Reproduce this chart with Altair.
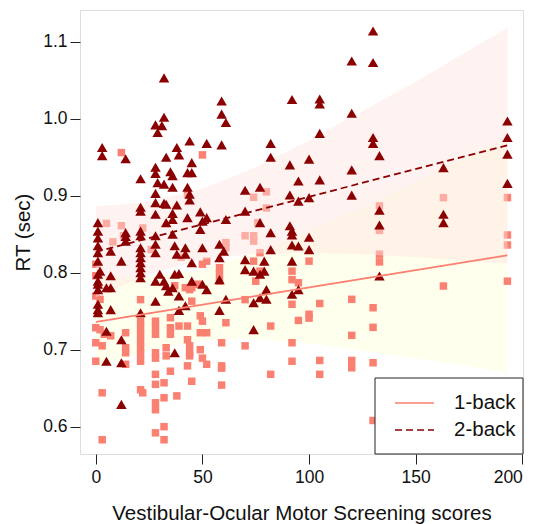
import altair as alt
import pandas as pd

# ---- data ----
# 2-back (triangles): (x, RT)
tri = [
    (1, 0.865), (1, 0.854), (1, 0.845), (1, 0.835), (1, 0.826), (1, 0.815), (1, 0.798),
    (1, 0.789), (1, 0.785), (1, 0.778), (1, 0.759), (1, 0.752), (1, 0.748),
    (2, 0.802), (3, 0.9625), (3, 0.952),
    (5, 0.7805), (5, 0.724), (5, 0.685),
    (7, 0.828), (7, 0.796), (7, 0.7805), (7, 0.752),
    (12, 0.815), (12, 0.713), (12, 0.683), (12, 0.629),
    (14, 0.948), (14, 0.852), (14, 0.847), (14, 0.841),
    (21, 0.922), (21, 0.885), (21, 0.880), (21, 0.854), (21, 0.848), (21, 0.8325), (21, 0.826),
    (21, 0.8195), (21, 0.813), (21, 0.8065), (21, 0.800), (21, 0.7935), (21, 0.748),
    (28, 0.992), (28, 0.937), (28, 0.929), (28, 0.903), (28, 0.891), (28, 0.876), (28, 0.848),
    (28, 0.837), (28, 0.826), (28, 0.789), (28, 0.763),
    (29, 0.982), (29, 0.917), (30, 0.798),
    (32, 1.053), (32, 1.002), (31, 0.991), (32, 0.915), (32, 0.890), (32, 0.789),
    (33, 0.950), (33, 0.889), (33, 0.865), (33, 0.783), (34, 0.776),
    (35, 0.931), (36, 0.926), (36, 0.911), (36, 0.877), (36, 0.869), (36, 0.850), (36, 0.7805),
    (37, 0.835), (37, 0.798), (37, 0.696),
    (38, 0.9625), (38, 0.888), (38, 0.824),
    (39, 0.953), (39, 0.799), (39, 0.7697), (39, 0.751),
    (43, 0.930), (43, 0.911), (43, 0.8715), (42, 0.8325), (42, 0.824), (42, 0.757),
    (44, 0.971), (44, 0.902), (44, 0.8945),
    (45, 0.943), (45, 0.930), (45, 0.813), (45, 0.789),
    (49, 0.879), (49, 0.856), (50, 0.867), (50, 0.8325), (50, 0.785),
    (52, 0.968), (52, 0.8715), (52, 0.778),
    (58, 0.837), (58, 0.8195), (58, 0.791), (58, 0.751),
    (59, 1.023), (59, 1.006), (59, 0.966), (60, 0.828),
    (61, 0.995), (61, 0.869), (61, 0.7654),
    (70, 0.907), (70, 0.880), (70, 0.817), (70, 0.804),
    (74, 0.802), (74, 0.761), (74, 0.726),
    (77, 0.911), (77, 0.865), (77, 0.798), (77, 0.7675),
    (79, 0.815), (79, 0.802), (80, 0.7654), (80, 0.778),
    (82, 0.968), (82, 0.950), (82, 0.852), (82, 0.830),
    (91, 0.940), (91, 0.901), (91, 0.861),
    (92, 1.025), (92, 0.854), (92, 0.849), (92, 0.836), (92, 0.815), (92, 0.772),
    (95, 0.919), (95, 0.893), (95, 0.8347), (95, 0.778),
    (100, 0.9475), (100, 0.8975), (100, 0.846), (100, 0.830),
    (105, 1.0255), (105, 1.019), (105, 0.981), (105, 0.9206),
    (120, 1.075), (120, 1.007), (120, 0.9335), (120, 0.9007),
    (130, 1.114), (130, 1.073), (130, 0.9756), (130, 0.968),
    (133, 0.952), (133, 0.881), (133, 0.862), (133, 0.7957),
    (163, 0.9365), (163, 0.876), (163, 0.865),
    (193, 0.997), (193, 0.9756), (193, 0.954), (193, 0.916),
]
tri_x = [p[0] for p in tri]
tri_y = [p[1] for p in tri]

# 1-back (squares): (x, RT)
sq = [
    (0, 0.811), (0, 0.796), (0, 0.7697), (0, 0.7285), (0, 0.709), (0, 0.685),
    (2, 0.7654), (2, 0.726), (3, 0.705), (3, 0.644), (3, 0.583), (4, 0.72), (5, 0.864),
    (7, 0.718), (8, 0.84), (12, 0.956), (12, 0.861), (13, 0.848),
    (14, 0.722), (14, 0.7025), (14, 0.696), (14, 0.681),
    (21, 0.765), (21, 0.737), (21, 0.7285), (21, 0.72), (21, 0.711), (21, 0.7025), (21, 0.694),
    (21, 0.685), (21, 0.648), (22, 0.858), (22, 0.644), (26, 0.83),
    (28, 0.737), (28, 0.7285), (28, 0.72), (28, 0.696), (28, 0.689), (28, 0.668), (28, 0.655),
    (28, 0.631), (28, 0.622), (28, 0.592),
    (32, 0.657), (32, 0.6375), (32, 0.6), (32, 0.583), (33, 0.7025), (33, 0.692),
    (35, 0.7415), (35, 0.7285), (35, 0.72), (35, 0.672), (37, 0.783), (38, 0.64), (39, 0.7307),
    (40, 0.82), (42, 0.7805), (43, 0.902), (43, 0.7307), (43, 0.713), (43, 0.679),
    (44, 0.705), (44, 0.696), (44, 0.692), (44, 0.778),
    (45, 0.7805), (45, 0.763), (45, 0.659), (48, 0.785),
    (49, 0.744), (49, 0.722), (49, 0.70), (50, 0.953), (50, 0.811), (50, 0.737), (50, 0.689),
    (52, 0.815), (52, 0.722), (52, 0.681),
    (58, 0.8065), (58, 0.798), (58, 0.789), (59, 0.709), (59, 0.679), (59, 0.676), (59, 0.654),
    (61, 0.839), (61, 0.8325), (61, 0.735), (70, 0.848), (70, 0.765), (70, 0.705),
    (74, 0.898), (74, 0.848), (74, 0.841), (74, 0.815), (75, 0.789), (76, 0.865),
    (77, 0.826), (77, 0.802), (80, 0.905), (80, 0.884), (82, 0.7307), (82, 0.668),
    (92, 0.802), (92, 0.791), (92, 0.759), (92, 0.709), (92, 0.685),
    (95, 0.787), (95, 0.738), (100, 0.815), (100, 0.746), (100, 0.741),
    (105, 0.760), (105, 0.686), (105, 0.668),
    (120, 0.7654), (120, 0.7186), (120, 0.686), (120, 0.6765),
    (130, 0.7545), (130, 0.729), (130, 0.683), (130, 0.608),
    (133, 0.8867), (133, 0.855), (133, 0.824), (133, 0.814),
    (163, 0.8975), (163, 0.7827),
    (193, 0.8975), (193, 0.849), (193, 0.836), (193, 0.789),
]
sq_x = [p[0] for p in sq]
sq_y = [p[1] for p in sq]

# fitted lines (end points)
line_series = ["1-back", "1-back", "2-back", "2-back"]
line_x = [0, 193, 0, 193]
line_y = [0.736, 0.8226, 0.827, 0.9654]

# confidence bands (edges)
band_x = [0, 25, 50, 75, 100, 125, 150, 175, 193]
band1_lo = [0.677, 0.700, 0.712, 0.714, 0.708, 0.699, 0.689, 0.678, 0.670]
band1_hi = [0.795, 0.794, 0.804, 0.826, 0.854, 0.885, 0.917, 0.952, 0.976]
band2_lo = [0.768, 0.798, 0.817, 0.825, 0.826, 0.824, 0.820, 0.815, 0.812]
band2_hi = [0.886, 0.892, 0.909, 0.937, 0.972, 1.010, 1.048, 1.089, 1.118]

x_ticks = [0, 50, 100, 150, 200]
y_ticks = [0.6, 0.7, 0.8, 0.9, 1.0, 1.1]

FONT = "Liberation Sans"
SALMON = "#FA8072"
DARKRED = "#8B0000"

xs = alt.Scale(domain=[-7.4, 200.3], nice=False, zero=False)
ys = alt.Scale(domain=[0.5645, 1.1412], nice=False, zero=False)

x_axis = alt.Axis(values=x_ticks, title="Vestibular-Ocular Motor Screening scores",
                  domain=False, grid=False, tickSize=10, tickColor="#222", labelPadding=4,
                  labelFontSize=17.5, labelFont=FONT, labelColor="#111",
                  titleFontSize=20.5, titleFont=FONT, titleFontWeight="normal", titleColor="#111",
                  titleBaseline="alphabetic", titleY=65)
y_axis = alt.Axis(values=y_ticks, format=".1f", title="RT (sec)",
                  domain=False, grid=False, tickSize=10, tickColor="#222", labelPadding=3,
                  labelFontSize=17.5, labelFont=FONT, labelColor="#111",
                  titleFontSize=20.5, titleFont=FONT, titleFontWeight="normal", titleColor="#111",
                  titleBaseline="alphabetic", titleAngle=270, titleX=-51, titleY=222,
                  titleAlign="center")

legend = alt.Legend(title=None, orient="none", legendX=314, legendY=383, padding=0,
                    symbolType="stroke", symbolSize=1521, symbolStrokeWidth=1.5,
                    clipHeight=20,
                    labelFontSize=20.5, labelFont=FONT, labelColor="#111",
                    labelOffset=19, rowPadding=6)

band1_df = pd.DataFrame({"x": band_x, "lo": band1_lo, "hi": band1_hi})
band2_df = pd.DataFrame({"x": band_x, "lo": band2_lo, "hi": band2_hi})
sq_df = pd.DataFrame({"x": sq_x, "y": sq_y})
tri_df = pd.DataFrame({"x": tri_x, "y": tri_y})
line_df = pd.DataFrame({"series": line_series, "x": line_x, "y": line_y})

band1 = alt.Chart(band1_df).mark_area(color="#FFFFE0", opacity=0.55).encode(
    x=alt.X("x:Q", scale=xs, axis=x_axis),
    y=alt.Y("lo:Q", scale=ys, axis=y_axis),
    y2="hi:Q",
)
squares = alt.Chart(sq_df).mark_point(shape="square", filled=True, size=56, opacity=1,
                                       color=SALMON).encode(
    x=alt.X("x:Q", scale=xs), y=alt.Y("y:Q", scale=ys))
band2 = alt.Chart(band2_df).mark_area(color="#FFE4E1", opacity=0.45).encode(
    x=alt.X("x:Q", scale=xs), y=alt.Y("lo:Q", scale=ys), y2="hi:Q")
triangles = alt.Chart(tri_df).mark_point(shape="triangle-up", filled=True, size=110, opacity=1,
                                         color=DARKRED).encode(
    x=alt.X("x:Q", scale=xs), y=alt.Y("y:Q", scale=ys))

frame = alt.Chart(pd.DataFrame({"k": [0]})).mark_rect(fill="white", stroke="#222",
                                                      strokeWidth=1).encode(
    x=alt.value(295), x2=alt.value(443), y=alt.value(368), y2=alt.value(444))

lines = alt.Chart(line_df).mark_line(strokeWidth=1.8).encode(
    x=alt.X("x:Q", scale=xs),
    y=alt.Y("y:Q", scale=ys),
    color=alt.Color("series:N",
                    scale=alt.Scale(domain=["1-back", "2-back"], range=[SALMON, DARKRED]),
                    legend=legend),
    strokeDash=alt.StrokeDash("series:N",
                              scale=alt.Scale(domain=["1-back", "2-back"], range=[[1, 0], [7, 4]]),
                              legend=legend),
)

chart = alt.layer(band1, squares, band2, triangles, lines, frame).properties(
    width=443, height=444,
    autosize=alt.AutoSizeParams(type="none"),
    padding={"left": 80, "top": 10, "right": 15, "bottom": 70},
).configure_view(stroke="#333", strokeWidth=1).configure(background="white")

chart.save("out.html", embed_options={"renderer": "svg", "actions": False})
